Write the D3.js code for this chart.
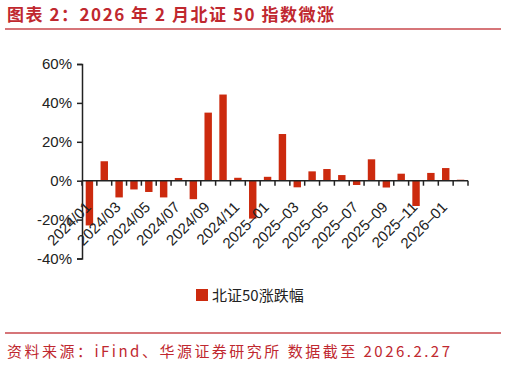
<!DOCTYPE html>
<html>
<head>
<meta charset="utf-8">
<script src="https://cdn.jsdelivr.net/npm/d3@7"></script>
<style>
  body { margin: 0; background: #fff; }
  svg { display: block; }
</style>
</head>
<body>
<div class="main"></div>
<script>
// monthly change of the BSE 50 index, %
const months = ["2024/01","2024/02","2024/03","2024/04","2024/05","2024/06","2024/07","2024/08","2024/09","2024/10","2024/11","2024/12",
  "2025–01","2025–02","2025–03","2025–04","2025–05","2025–06","2025–07","2025–08","2025–09","2025–10","2025–11","2025–12",
  "2026–01","2026–02"]
const changes = [-23, 10, -8.6, -4.5, -5.8, -8.6, 1.4, -9.5, 35, 44.3, 1.5, -19.5,
  2, 24, -3.4, 4.8, 6, 2.9, -2.2, 11, -3.5, 3.6, -13, 4, 6.5, 0.5]
const yTicks = [-40, -20, 0, 20, 40, 60]

const title = "图表 2：2026 年 2 月北证 50 指数微涨"
const source = "资料来源：iFind、华源证券研究所 数据截至 2026.2.27"
const seriesName = "北证50涨跌幅"

const W = 506, H = 366
const red = "#c0282f", barColor = "#cc2a0e"
const margin = { top: 64, right: 38, bottom: 108, left: 82 }

const svg = d3.select(".main").append("svg")
    .attr("width", W)
    .attr("height", H)
    .style("font-family", "'Liberation Sans', Arial, sans-serif")

// header
svg.append("text")
    .attr("x", 7).attr("y", 21)
    .attr("fill", red)
    .attr("font-size", 17).attr("font-weight", "bold")
    .attr("font-family", "'Noto Sans CJK SC', sans-serif")
    .attr("textLength", 327).attr("lengthAdjust", "spacing")
    .text(title)
svg.append("line")
    .attr("x1", 5).attr("x2", 501).attr("y1", 29).attr("y2", 29)
    .attr("stroke", "#c9474c").attr("stroke-width", 1.5)

const x = d3.scaleBand()
    .domain(months)
    .range([margin.left, 468])
    .paddingInner(0.5).paddingOuter(0.25)

const y = d3.scaleLinear()
    .domain([-40, 60])
    .range([258.5, 64])

// bars
svg.selectAll("rect.bar")
    .data(changes)
    .join("rect")
    .attr("class", "bar")
    .attr("x", (d, i) => x(months[i]))
    .attr("width", x.bandwidth())
    .attr("y", d => y(Math.max(0, d)))
    .attr("height", d => Math.abs(y(d) - y(0)))
    .attr("fill", barColor)

// y axis
const yAxis = svg.append("g")
    .attr("transform", `translate(${margin.left},0)`)
    .call(d3.axisLeft(y).tickValues(yTicks).tickFormat(d => d + "%").tickSizeOuter(0).tickSize(5))
yAxis.select(".domain").attr("stroke", "#222").attr("stroke-width", 1.5)
yAxis.selectAll(".tick line").attr("stroke", "#222").attr("stroke-width", 1.5)
yAxis.selectAll("text")
    .attr("font-size", 15).attr("fill", "#222")
    .attr("font-family", "'Liberation Sans', Arial, sans-serif")
    .attr("x", -10)

// x axis at zero, ticks at category boundaries
const step = x.step()
const bounds = d3.range(months.length + 1).map(i => x(months[0]) - x.paddingInner() * step / 2 + i * step)
const xAxis = svg.append("g")
xAxis.append("line")
    .attr("x1", margin.left).attr("x2", 468)
    .attr("y1", y(0)).attr("y2", y(0))
    .attr("stroke", "#222").attr("stroke-width", 1.5)
xAxis.selectAll("line.tick")
    .data(bounds)
    .join("line")
    .attr("class", "tick")
    .attr("x1", d => d).attr("x2", d => d)
    .attr("y1", y(0)).attr("y2", y(0) + 5)
    .attr("stroke", "#222").attr("stroke-width", 1.5)

// month labels, every other month
xAxis.selectAll("text")
    .data(months.filter((d, i) => i % 2 === 0))
    .join("text")
    .attr("transform", d => `translate(${x(d) + x.bandwidth() / 2 - 5},${y(0) + 20}) rotate(-45)`)
    .attr("text-anchor", "end")
    .attr("dy", "0.7em")
    .attr("font-size", 15)
    .attr("fill", "#222")
    .text(d => d)

// legend
const legend = svg.append("g").attr("transform", "translate(196,289)")
legend.append("rect").attr("width", 12).attr("height", 12).attr("fill", barColor)
legend.append("text")
    .attr("x", 16).attr("y", 11.5)
    .attr("font-size", 15)
    .attr("font-family", "'Noto Sans CJK SC', sans-serif")
    .attr("fill", "#222")
    .text(seriesName)

// footer
svg.append("line")
    .attr("x1", 5).attr("x2", 501).attr("y1", 333).attr("y2", 333)
    .attr("stroke", "#c9474c").attr("stroke-width", 1.5)
svg.append("text")
    .attr("x", 7).attr("y", 357)
    .attr("fill", red)
    .attr("font-size", 15)
    .attr("font-family", "'Noto Sans CJK SC', sans-serif")
    .attr("textLength", 443).attr("lengthAdjust", "spacing")
    .text(source)
</script>
</body>
</html>
